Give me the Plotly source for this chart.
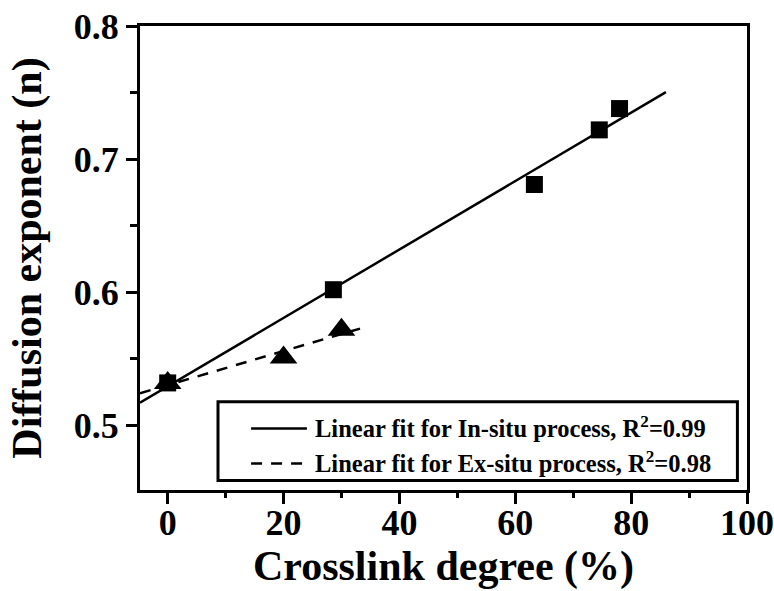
import numpy as np
import plotly.graph_objects as go

# ---- data ----
in_situ_x = [0, 28.6, 63.3, 74.5, 78.0]
in_situ_y = [0.532, 0.602, 0.681, 0.722, 0.738]
ex_situ_x = [0, 20.0, 30.0]
ex_situ_y = [0.532, 0.551, 0.572]

fit_in_range = [-4.78, 86.0]
fit_ex_range = [-4.78, 33.2]

legend_in = "Linear fit for In-situ process, R<sup>2</sup>=0.99"
legend_ex = "Linear fit for Ex-situ process, R<sup>2</sup>=0.98"

x_title = "Crosslink degree (%)"
y_title = "Diffusion exponent (n)"
x_ticks = [0, 20, 40, 60, 80, 100]
y_ticks = [0.5, 0.6, 0.7, 0.8]
x_range = [-4.78, 100]
y_range = [0.4516, 0.8]

FONT = "Liberation Serif"

p_in = np.polyfit(in_situ_x, in_situ_y, 1)
p_ex = np.polyfit(ex_situ_x, ex_situ_y, 1)
fx_in = np.array(fit_in_range)
fx_ex = np.array(fit_ex_range)

fig = go.Figure()
fig.add_trace(go.Scatter(x=fx_in, y=np.polyval(p_in, fx_in), mode="lines",
                         line=dict(color="black", width=2.5), showlegend=False))
fig.add_trace(go.Scatter(x=fx_ex, y=np.polyval(p_ex, fx_ex), mode="lines",
                         line=dict(color="black", width=2.5, dash="11px,9px"), showlegend=False))
fig.add_trace(go.Scatter(x=in_situ_x, y=in_situ_y, mode="markers",
                         marker=dict(symbol="square", size=17, color="black"), showlegend=False))
fig.add_trace(go.Scatter(x=ex_situ_x, y=ex_situ_y, mode="markers",
                         marker=dict(symbol="triangle-up", size=24, color="black"), showlegend=False))

# legend box drawn in paper coordinates
fig.add_shape(type="rect", xref="paper", yref="paper", x0=0.1285, x1=0.9842, y0=0.0205, y1=0.1903,
              line=dict(color="black", width=3), fillcolor="white", layer="above")
fig.add_shape(type="line", xref="paper", yref="paper", x0=0.183, x1=0.275, y0=0.1326, y1=0.1326,
              line=dict(color="black", width=2.5))
fig.add_shape(type="line", xref="paper", yref="paper", x0=0.183, x1=0.275, y0=0.0571, y1=0.0571,
              line=dict(color="black", width=2.5, dash="11px,9px"))
fig.add_annotation(xref="paper", yref="paper", x=0.285, y=0.1347, text=legend_in, showarrow=False,
                   xanchor="left", yanchor="middle", font=dict(family=FONT, size=24.5, color="black", weight="bold"))
fig.add_annotation(xref="paper", yref="paper", x=0.285, y=0.0593, text=legend_ex, showarrow=False,
                   xanchor="left", yanchor="middle", font=dict(family=FONT, size=24.5, color="black", weight="bold"))

axis_common = dict(showline=True, linecolor="black", linewidth=3, mirror=True, showgrid=False,
                   zeroline=False, ticks="outside", tickcolor="black", tickwidth=3, ticklen=11,
                   tickfont=dict(family=FONT, size=36, color="black", weight="bold"))

fig.update_xaxes(range=x_range, tickvals=x_ticks, ticktext=[str(v) for v in x_ticks], ticklabelstandoff=-12,
                 minor=dict(dtick=10, ticks="outside", ticklen=5, tickwidth=3, tickcolor="black"),
                 title=dict(text=x_title, font=dict(family=FONT, size=42, color="black", weight="bold"), standoff=8),
                 **axis_common)
fig.update_yaxes(range=y_range, tickvals=y_ticks, ticktext=[f"{v:.1f}" for v in y_ticks],
                 minor=dict(dtick=0.05, ticks="outside", ticklen=7, tickwidth=3, tickcolor="black"),
                 title=dict(text=y_title, font=dict(family=FONT, size=42, color="black", weight="bold"), standoff=20),
                 **axis_common)

fig.update_layout(width=774, height=591, margin=dict(l=140, r=27, t=26, b=101, autoexpand=False),
                  plot_bgcolor="white", paper_bgcolor="white", font=dict(family=FONT, color="black"))

fig.write_html("out.html")
